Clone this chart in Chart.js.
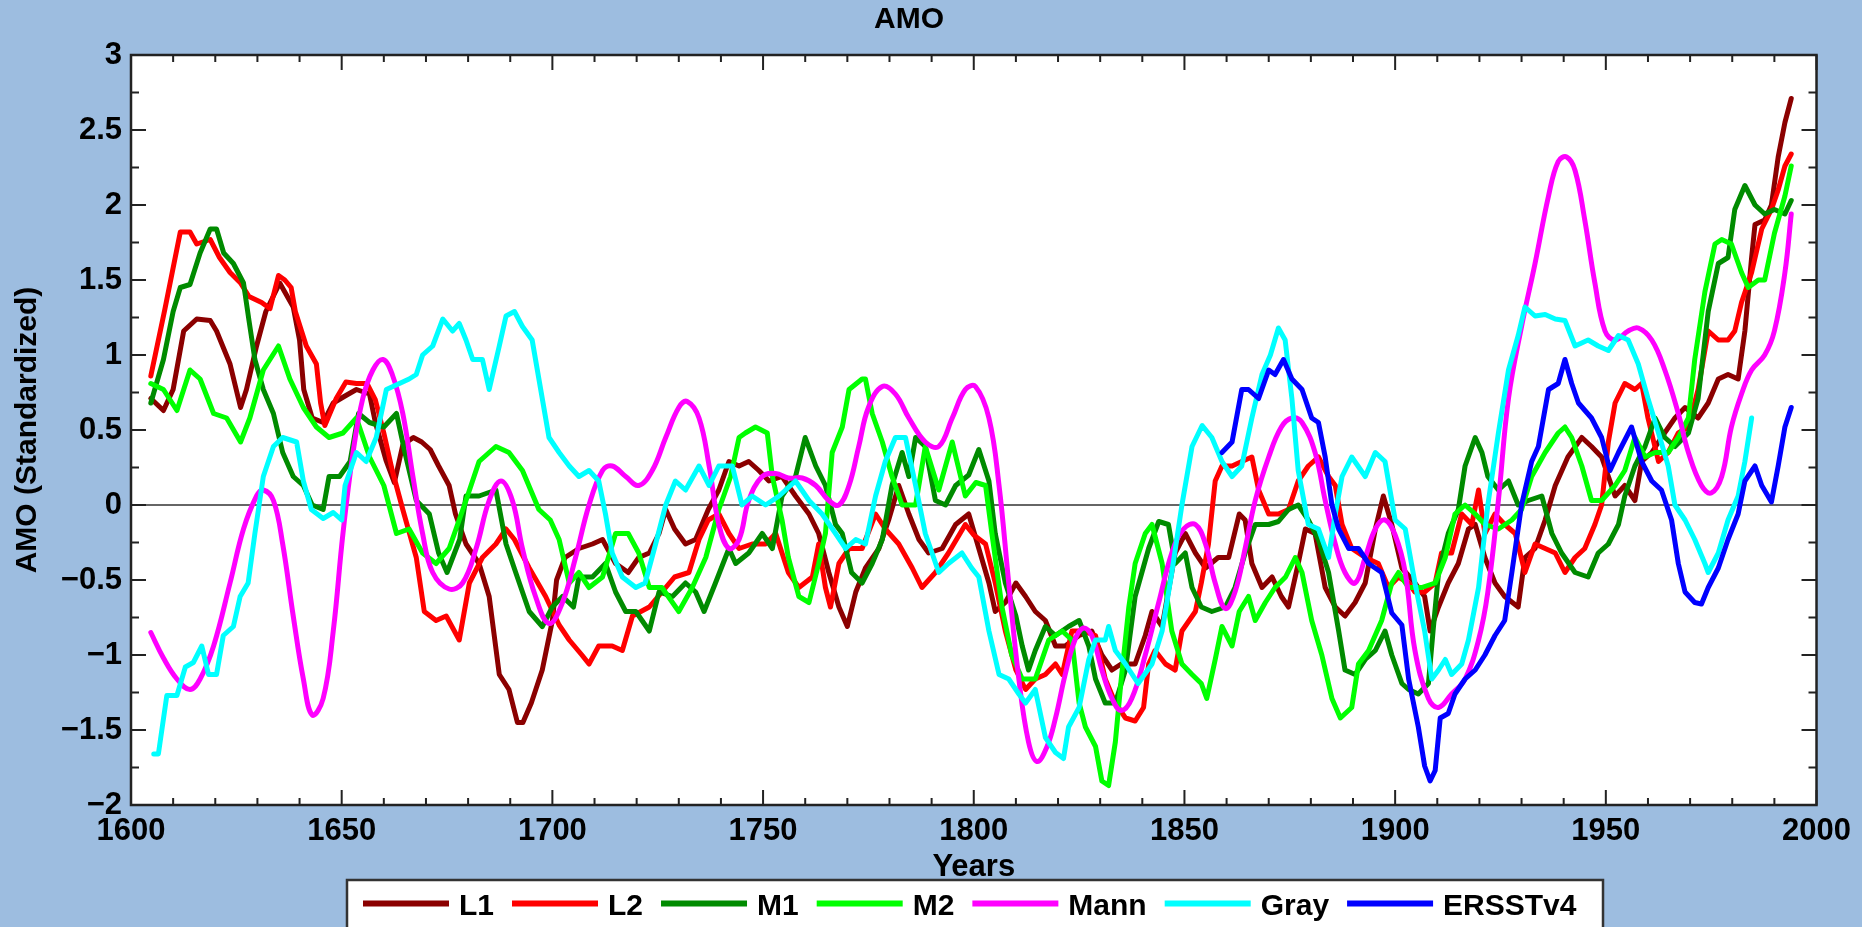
<!DOCTYPE html>
<html>
<head>
<meta charset="utf-8">
<title>AMO</title>
<script src="https://cdn.jsdelivr.net/npm/chart.js@4.4.1/dist/chart.umd.min.js"></script>
<style>
  html, body { margin: 0; padding: 0; background: #9dbde0; }
  #wrap { position: relative; width: 1862px; height: 927px; }
</style>
</head>
<body>
<div id="wrap"><canvas id="amoChart"></canvas></div>
<script>
// values: [year, AMO standardized]
const L1 = [[1604.7,0.71],[1607.7,0.63],[1610,0.77],[1612.5,1.16],[1615.6,1.24],[1618.8,1.23],[1620.3,1.16],[1623.5,0.94],[1626,0.65],[1627.4,0.77],[1629.8,1.06],[1632,1.29],[1635.3,1.48],[1638.5,1.32],[1640,1.1],[1641,0.77],[1643,0.58],[1645.6,0.55],[1648,0.68],[1651,0.73],[1653.5,0.77],[1656.6,0.74],[1658,0.55],[1660.5,0.3],[1662.5,0.15],[1664.5,0.4],[1667,0.45],[1669,0.42],[1671,0.37],[1673,0.26],[1675.5,0.13],[1677,-0.06],[1679.5,-0.26],[1682.6,-0.39],[1685,-0.61],[1687.4,-1.13],[1689.7,-1.23],[1691.7,-1.45],[1693,-1.45],[1695,-1.32],[1697.6,-1.1],[1700,-0.77],[1701,-0.5],[1703,-0.35],[1706.3,-0.29],[1709.5,-0.26],[1711.9,-0.23],[1715,-0.39],[1718,-0.45],[1720.5,-0.35],[1723,-0.32],[1725.3,-0.19],[1726.9,-0.03],[1729,-0.16],[1731.6,-0.26],[1734,-0.23],[1737,-0.03],[1739.5,0.1],[1741.9,0.29],[1744.3,0.26],[1746.6,0.29],[1749,0.23],[1751.4,0.16],[1754.5,0.19],[1757.7,0.06],[1760.9,-0.06],[1763.2,-0.19],[1765.6,-0.45],[1768,-0.68],[1770,-0.81],[1772,-0.58],[1774.3,-0.42],[1777.5,-0.29],[1779.8,-0.1],[1782.2,0.13],[1784.6,-0.06],[1787,-0.23],[1789.3,-0.32],[1792.5,-0.29],[1795.7,-0.13],[1798.8,-0.06],[1801.2,-0.29],[1803.6,-0.52],[1805.1,-0.71],[1807.5,-0.65],[1810,-0.52],[1812.3,-0.61],[1814.6,-0.71],[1817,-0.77],[1819.4,-0.94],[1821.7,-0.94],[1825,-0.87],[1828,-0.84],[1830.4,-1],[1832.8,-1.1],[1835,-1.06],[1838.3,-1.06],[1840.7,-0.87],[1842.3,-0.71],[1844.7,-0.81],[1847.8,-0.32],[1850.2,-0.19],[1852.6,-0.32],[1855,-0.42],[1858,-0.35],[1860.5,-0.35],[1863,-0.06],[1864.4,-0.1],[1866,-0.39],[1868.4,-0.55],[1870.8,-0.48],[1873,-0.61],[1874.7,-0.68],[1877,-0.39],[1878.7,-0.16],[1881,-0.19],[1883.4,-0.55],[1885.8,-0.68],[1888.1,-0.74],[1890.5,-0.65],[1892.9,-0.52],[1895.3,-0.16],[1897.2,0.06],[1899.2,-0.13],[1901.6,-0.42],[1904.7,-0.52],[1907,-0.61],[1908.3,-0.84],[1910.3,-0.68],[1912.6,-0.52],[1915,-0.39],[1917.4,-0.16],[1919,-0.13],[1921.3,-0.35],[1923.7,-0.52],[1926,-0.61],[1929.2,-0.68],[1930.8,-0.35],[1933.2,-0.29],[1935.6,-0.1],[1938,0.13],[1941,0.32],[1944.3,0.45],[1946.6,0.39],[1949,0.32],[1952.2,0.06],[1954.5,0.13],[1956.9,0.03],[1958.5,0.29],[1960.9,0.35],[1963.2,0.45],[1966.4,0.58],[1968.8,0.65],[1971.9,0.58],[1974.3,0.68],[1976.7,0.84],[1979,0.87],[1981.4,0.84],[1983,1.16],[1984.6,1.65],[1985.4,1.87],[1987.7,1.9],[1989.3,2],[1990.9,2.32],[1992.5,2.55],[1994,2.71]];

const L2 = [[1604.7,0.86],[1608,1.3],[1611.7,1.82],[1614,1.82],[1615.6,1.74],[1618.8,1.77],[1621,1.65],[1623.5,1.55],[1626,1.48],[1628,1.39],[1631,1.35],[1633,1.31],[1635,1.53],[1636.5,1.5],[1638,1.45],[1639,1.29],[1641.6,1.06],[1644,0.94],[1645,0.68],[1646,0.53],[1648.7,0.71],[1651,0.82],[1653.5,0.81],[1656,0.81],[1658,0.7],[1660,0.48],[1662,0.23],[1664.5,-0.03],[1667.7,-0.35],[1669.6,-0.71],[1672.4,-0.77],[1674.8,-0.74],[1677.9,-0.9],[1680.3,-0.52],[1683.4,-0.35],[1686.6,-0.26],[1689,-0.16],[1691,-0.23],[1694.5,-0.42],[1698.4,-0.61],[1701.6,-0.8],[1704,-0.9],[1707,-1],[1708.7,-1.06],[1711,-0.94],[1714.2,-0.94],[1716.6,-0.97],[1719,-0.74],[1723,-0.68],[1726,-0.58],[1729,-0.48],[1732.4,-0.45],[1734.8,-0.23],[1737,-0.1],[1739.5,-0.06],[1741.9,-0.19],[1744.3,-0.29],[1747.4,-0.26],[1750.6,-0.26],[1753,-0.19],[1754.5,-0.32],[1756,-0.45],[1758.5,-0.55],[1761.7,-0.48],[1763.2,-0.26],[1764.8,-0.55],[1766,-0.68],[1768,-0.39],[1770.4,-0.29],[1773.5,-0.29],[1776.7,-0.06],[1779,-0.16],[1782.2,-0.26],[1785.4,-0.42],[1787.7,-0.55],[1790.9,-0.45],[1794,-0.32],[1798,-0.13],[1800,-0.2],[1802.8,-0.26],[1805.1,-0.52],[1807.5,-0.84],[1810,-1.1],[1812.3,-1.23],[1814.6,-1.16],[1817,-1.13],[1819.4,-1.06],[1821,-1.13],[1823.3,-0.84],[1825.7,-0.84],[1828.9,-0.87],[1831.2,-1.16],[1833.6,-1.32],[1836,-1.42],[1838.3,-1.44],[1840.3,-1.35],[1841.5,-1.06],[1843,-0.97],[1845.5,-1.06],[1847.8,-1.1],[1849.4,-0.84],[1852.6,-0.71],[1854,-0.52],[1855.7,-0.26],[1857.3,0.16],[1858.9,0.26],[1861.3,0.26],[1863.6,0.29],[1866,0.32],[1867.6,0.1],[1870,-0.06],[1872.3,-0.06],[1874.7,-0.03],[1877,0.16],[1879.4,0.26],[1881.8,0.32],[1884.2,0.19],[1885.8,0.13],[1887.4,-0.13],[1889.7,-0.29],[1892.9,-0.35],[1896,-0.39],[1898.4,-0.55],[1900.8,-0.48],[1903.2,-0.52],[1904.7,-0.58],[1907,-0.58],[1909.5,-0.52],[1911,-0.32],[1913.4,-0.32],[1915.8,-0.06],[1918.2,-0.13],[1919.8,0.1],[1921.3,-0.19],[1923.7,-0.06],[1926,-0.13],[1928.5,-0.19],[1930.8,-0.45],[1933.2,-0.26],[1935.6,-0.29],[1938,-0.32],[1940.3,-0.45],[1942.7,-0.35],[1945,-0.29],[1947.4,-0.13],[1949,0],[1950.6,0.42],[1952.2,0.68],[1954.5,0.81],[1956.9,0.77],[1958.5,0.81],[1960,0.58],[1962.5,0.29],[1964.8,0.35],[1967.2,0.48],[1969.6,0.52],[1971.9,0.77],[1974.3,1.16],[1976.7,1.1],[1979,1.1],[1980.6,1.16],[1982.2,1.35],[1984.6,1.55],[1987,1.84],[1989.3,1.97],[1990.9,2.1],[1992.5,2.26],[1994,2.34]];

const M1 = [[1604.7,0.68],[1607.7,0.97],[1610,1.29],[1611.7,1.45],[1614,1.47],[1616.4,1.68],[1618.8,1.84],[1620.3,1.84],[1622,1.68],[1624.3,1.61],[1626.7,1.48],[1628,1.23],[1629.4,0.97],[1631.4,0.77],[1633.8,0.61],[1636,0.35],[1638.5,0.19],[1640.9,0.13],[1643,0],[1645.6,-0.03],[1647,0.19],[1649.5,0.19],[1652,0.29],[1654,0.61],[1656.6,0.55],[1660,0.52],[1663,0.61],[1665,0.35],[1667.7,0.03],[1670.8,-0.06],[1673,-0.32],[1675,-0.45],[1678,-0.23],[1679.5,0.06],[1682.6,0.06],[1686.6,0.1],[1689,-0.26],[1691.3,-0.45],[1694.5,-0.71],[1697.6,-0.81],[1700,-0.68],[1702.4,-0.61],[1705,-0.68],[1706.3,-0.48],[1709.5,-0.48],[1712.6,-0.39],[1715,-0.58],[1717.4,-0.71],[1719.8,-0.71],[1723,-0.84],[1725.3,-0.58],[1728.5,-0.61],[1731.6,-0.52],[1734,-0.58],[1736,-0.71],[1738.7,-0.52],[1741.9,-0.29],[1743.5,-0.39],[1746.6,-0.32],[1749.8,-0.19],[1752.2,-0.29],[1754.5,0.06],[1757.7,0.19],[1760,0.45],[1762.5,0.26],[1764.8,0.13],[1767.2,-0.13],[1768.8,-0.19],[1771,-0.45],[1773.5,-0.52],[1775.9,-0.39],[1778.3,-0.23],[1780.6,0.13],[1783,0.35],[1784.6,0.19],[1786.2,0.45],[1788.5,0.39],[1790.9,0.03],[1793.3,0],[1795.7,0.13],[1798.8,0.2],[1801.2,0.37],[1803.6,0.16],[1805.1,-0.19],[1807.5,-0.52],[1810,-0.74],[1811.5,-0.94],[1813,-1.1],[1814.6,-0.97],[1817,-0.81],[1819.4,-0.87],[1822.5,-0.81],[1825,-0.77],[1827.3,-0.94],[1828.9,-1.16],[1831.2,-1.32],[1833.6,-1.32],[1836,-1.1],[1838.3,-0.61],[1841.5,-0.29],[1843.9,-0.11],[1846.2,-0.13],[1847.8,-0.39],[1850.2,-0.32],[1851.8,-0.55],[1854,-0.68],[1856.5,-0.71],[1859.7,-0.68],[1862,-0.55],[1864.4,-0.32],[1866.8,-0.13],[1870,-0.13],[1872.3,-0.11],[1874.7,-0.03],[1877,0],[1879.4,-0.1],[1881.8,-0.23],[1884.2,-0.45],[1886.6,-0.84],[1888.1,-1.1],[1890.5,-1.13],[1892.9,-1.03],[1895.3,-0.97],[1897.6,-0.84],[1899.2,-1],[1901.6,-1.19],[1903.2,-1.23],[1905.5,-1.26],[1907.9,-1.19],[1909,-0.84],[1910.3,-0.45],[1912.6,-0.19],[1915,-0.03],[1916.6,0.26],[1919,0.45],[1920.6,0.35],[1922,0.19],[1924.5,0.1],[1926.9,0.16],[1929.2,0],[1931.6,0.03],[1934.8,0.06],[1937.2,-0.19],[1939.5,-0.32],[1942.7,-0.45],[1945.8,-0.48],[1948.2,-0.32],[1950.6,-0.26],[1953,-0.13],[1954.5,0.06],[1956.9,0.26],[1959.3,0.39],[1961.7,0.58],[1964,0.45],[1966.4,0.39],[1969.6,0.48],[1971.9,0.71],[1974.3,1.29],[1976.7,1.61],[1979,1.65],[1980.6,1.97],[1983,2.13],[1985.4,2],[1987.7,1.94],[1990,1.97],[1992.5,1.94],[1994,2.03]];

const M2 = [[1604.7,0.81],[1607.7,0.77],[1610.9,0.63],[1614,0.9],[1616.4,0.84],[1619.6,0.61],[1622.7,0.58],[1626,0.42],[1628.2,0.58],[1631.4,0.9],[1635,1.06],[1637.7,0.84],[1640.9,0.65],[1644,0.52],[1647,0.45],[1650.3,0.48],[1653.5,0.58],[1656.6,0.32],[1660,0.13],[1663,-0.19],[1666,-0.16],[1669.2,-0.32],[1672.4,-0.39],[1675.5,-0.29],[1679.5,0.03],[1682.6,0.29],[1686.6,0.39],[1689.7,0.35],[1692.9,0.23],[1696.8,-0.03],[1699.5,-0.1],[1701.6,-0.23],[1704,-0.52],[1706.3,-0.45],[1708.7,-0.55],[1711.9,-0.48],[1715,-0.19],[1718,-0.19],[1720.5,-0.32],[1723,-0.55],[1726,-0.55],[1730,-0.71],[1733.2,-0.55],[1736.4,-0.35],[1739.5,-0.03],[1742.3,0.19],[1744.3,0.45],[1745.8,0.48],[1748.2,0.52],[1751,0.48],[1752.2,0.19],[1754.5,-0.1],[1756,-0.35],[1758.5,-0.61],[1760.9,-0.65],[1763.2,-0.39],[1764.8,-0.19],[1766.4,0.35],[1768.8,0.52],[1770.4,0.77],[1773.5,0.84],[1774.3,0.84],[1775.9,0.61],[1778.3,0.42],[1780.6,0.19],[1783,0],[1786.2,0],[1788.5,0.39],[1791.7,0.1],[1794.9,0.42],[1798,0.06],[1800.5,0.15],[1802.8,0.13],[1804.3,-0.19],[1806.7,-0.68],[1809,-1],[1811.5,-1.16],[1814.6,-1.16],[1817.8,-0.9],[1821,-0.84],[1823.3,-0.9],[1825,-1.32],[1826.5,-1.48],[1828.9,-1.61],[1830.4,-1.84],[1832,-1.87],[1833.6,-1.58],[1835,-1.16],[1836.8,-0.68],[1838.3,-0.39],[1840.7,-0.19],[1842.3,-0.13],[1844.7,-0.39],[1847,-0.84],[1849.4,-1.06],[1851.8,-1.13],[1854,-1.19],[1855.3,-1.29],[1857.3,-1.03],[1858.9,-0.81],[1861.3,-0.94],[1863,-0.71],[1865.2,-0.61],[1866.8,-0.77],[1869.2,-0.65],[1871.5,-0.55],[1874,-0.48],[1876.3,-0.35],[1877.9,-0.45],[1880.2,-0.77],[1882.6,-1],[1885,-1.29],[1887,-1.42],[1889.7,-1.35],[1891.3,-1.06],[1893.7,-0.97],[1896.8,-0.77],[1899.2,-0.52],[1900.8,-0.45],[1903.2,-0.55],[1906.3,-0.55],[1909.5,-0.52],[1911.9,-0.35],[1914.2,-0.06],[1916.6,0],[1919,-0.06],[1921.3,-0.13],[1924.5,-0.16],[1927.7,-0.1],[1930,-0.03],[1932.4,0.19],[1935.6,0.35],[1938.7,0.48],[1940.3,0.52],[1941.9,0.45],[1944.3,0.26],[1946.6,0.03],[1949,0.03],[1952.2,0.13],[1954.5,0.23],[1956.9,0.45],[1959.3,0.32],[1961.7,0.35],[1964.8,0.35],[1967.2,0.45],[1969.6,0.58],[1971.1,0.97],[1973.5,1.42],[1975.9,1.74],[1977.5,1.77],[1979.8,1.74],[1982.2,1.55],[1983.8,1.45],[1986.2,1.5],[1987.7,1.5],[1990,1.81],[1992.5,2.06],[1994,2.26]];

const MANN = [[1604.7,-0.85],[1607.7,-1.02],[1610.9,-1.16],[1614,-1.23],[1616.4,-1.16],[1619.6,-0.94],[1623.5,-0.52],[1626.7,-0.16],[1629.8,0.06],[1631.4,0.1],[1633.8,0.03],[1636,-0.26],[1638.5,-0.74],[1640.9,-1.16],[1643,-1.4],[1645.6,-1.29],[1648,-0.84],[1650.3,-0.19],[1652.7,0.35],[1655,0.71],[1657.4,0.9],[1659.8,0.97],[1662,0.87],[1664.5,0.61],[1666.9,0.19],[1669.2,-0.19],[1671.6,-0.45],[1675.5,-0.56],[1678.7,-0.52],[1681.9,-0.29],[1685,0.03],[1687.8,0.16],[1690.5,0.03],[1692.9,-0.29],[1696,-0.61],[1699.2,-0.79],[1702.4,-0.65],[1705.5,-0.35],[1708.7,0],[1711.9,0.23],[1714.2,0.26],[1717.4,0.19],[1720.5,0.13],[1723.7,0.23],[1726.9,0.45],[1730,0.65],[1732,0.69],[1734.8,0.58],[1737.2,0.26],[1739.5,-0.13],[1741.9,-0.29],[1744.3,-0.23],[1746.6,0.03],[1749.8,0.19],[1753,0.21],[1756,0.18],[1759.3,0.18],[1762.5,0.13],[1765.6,0.03],[1768,0],[1770.4,0.13],[1772.7,0.39],[1775,0.65],[1778.3,0.79],[1781.4,0.74],[1784.6,0.58],[1788.5,0.42],[1791.7,0.39],[1794.9,0.58],[1798,0.77],[1800.4,0.79],[1803.6,0.58],[1806,0.13],[1808.3,-0.52],[1810.7,-1.16],[1813,-1.58],[1815,-1.71],[1817.4,-1.61],[1819.4,-1.42],[1821.7,-1.13],[1824,-0.9],[1826,-0.82],[1828,-0.87],[1830.4,-1.1],[1832.8,-1.29],[1835,-1.37],[1837.5,-1.29],[1840.7,-1],[1843.9,-0.65],[1847,-0.32],[1849.8,-0.16],[1852.6,-0.13],[1855,-0.26],[1857.3,-0.52],[1859.7,-0.69],[1862,-0.58],[1864.4,-0.29],[1866.8,0.03],[1870,0.32],[1873,0.52],[1875.5,0.58],[1877.9,0.55],[1881,0.35],[1883.4,0.03],[1885.8,-0.26],[1888.1,-0.45],[1890.5,-0.52],[1892.9,-0.35],[1895.3,-0.16],[1897.6,-0.1],[1900,-0.2],[1902.4,-0.45],[1904.7,-0.97],[1907.9,-1.29],[1910.3,-1.35],[1913.4,-1.26],[1916.6,-1.16],[1919.8,-0.9],[1922,-0.58],[1924.5,0.03],[1926.9,0.71],[1930,1.19],[1933.2,1.61],[1936.4,2.06],[1938.7,2.29],[1940.7,2.32],[1942.7,2.23],[1945,1.9],[1947.4,1.48],[1949.8,1.16],[1952.2,1.1],[1955.3,1.16],[1957.7,1.18],[1960.9,1.1],[1964,0.9],[1967.2,0.61],[1969.6,0.35],[1972.7,0.13],[1975,0.08],[1977.5,0.19],[1979.8,0.52],[1982.2,0.74],[1984.6,0.9],[1987.7,1],[1990,1.16],[1992.5,1.55],[1994,1.94]];

const GRAY = [[1605.4,-1.66],[1606.5,-1.66],[1608.5,-1.27],[1610.9,-1.27],[1612.9,-1.08],[1614.8,-1.05],[1616.8,-0.94],[1618.4,-1.13],[1620.3,-1.13],[1621.9,-0.87],[1624.3,-0.81],[1625.9,-0.61],[1627.8,-0.52],[1629.4,-0.19],[1631.4,0.19],[1633.8,0.39],[1636,0.45],[1639.3,0.42],[1640.9,0.16],[1642.8,-0.03],[1645.6,-0.09],[1648,-0.05],[1650,-0.1],[1650.8,0.13],[1653.5,0.35],[1655.8,0.29],[1658.2,0.45],[1660.6,0.77],[1663.7,0.81],[1666,0.84],[1667.7,0.87],[1669.2,1],[1671.6,1.06],[1674,1.24],[1676.3,1.16],[1677.9,1.21],[1679.5,1.1],[1681.1,0.97],[1683.4,0.97],[1685,0.77],[1687.4,1.06],[1689,1.26],[1691,1.29],[1692.9,1.19],[1695.2,1.1],[1697.6,0.71],[1699.2,0.45],[1701.6,0.35],[1704,0.26],[1706.3,0.19],[1708.7,0.23],[1711,0.16],[1712.6,-0.06],[1714.2,-0.32],[1716.6,-0.48],[1719.8,-0.55],[1722,-0.52],[1724.5,-0.26],[1726.9,0],[1729.2,0.16],[1731.6,0.1],[1734.8,0.26],[1737.2,0.13],[1739.5,0.26],[1742.7,0.26],[1745,0],[1747.4,0.06],[1750.6,0],[1753.8,0.06],[1757.7,0.16],[1760.9,0.03],[1764,-0.06],[1767.2,-0.19],[1769.6,-0.29],[1772,-0.23],[1774.3,-0.26],[1776.7,0.06],[1779,0.29],[1781.4,0.45],[1783.8,0.45],[1786.2,0.13],[1788.5,-0.19],[1791.7,-0.45],[1794,-0.39],[1797.2,-0.32],[1799.5,-0.42],[1801.2,-0.48],[1803.6,-0.84],[1806,-1.13],[1808.3,-1.16],[1810.7,-1.26],[1812.3,-1.32],[1814.6,-1.23],[1817,-1.55],[1819.4,-1.65],[1821.3,-1.69],[1822.5,-1.48],[1825,-1.35],[1827.3,-1.03],[1828.9,-0.9],[1831.2,-0.9],[1832,-0.81],[1833.6,-0.97],[1836,-1.06],[1839,-1.19],[1842.3,-1.06],[1844.7,-0.84],[1847,-0.45],[1849.4,0],[1851.8,0.39],[1854.2,0.53],[1856.5,0.45],[1858.9,0.29],[1861.3,0.19],[1863.6,0.26],[1866,0.58],[1868.4,0.87],[1870.4,1],[1872.3,1.18],[1873.9,1.1],[1875.5,0.71],[1877,0.23],[1879.4,-0.13],[1881.8,-0.16],[1884.2,-0.35],[1885.8,-0.06],[1887.4,0.19],[1889.7,0.32],[1892.9,0.19],[1895.3,0.35],[1897.6,0.29],[1900,-0.1],[1902.4,-0.16],[1904.7,-0.52],[1907,-0.84],[1908.7,-1.16],[1910.3,-1.1],[1911.9,-1.03],[1913.4,-1.13],[1915.8,-1.06],[1917.4,-0.9],[1919.8,-0.55],[1922,0],[1924.5,0.48],[1926.9,0.9],[1929.2,1.13],[1930.8,1.32],[1933.2,1.26],[1935.6,1.27],[1938,1.24],[1940.3,1.23],[1942.7,1.06],[1945.8,1.1],[1948.2,1.06],[1950.6,1.03],[1953,1.13],[1955.3,1.1],[1957.7,0.94],[1960,0.71],[1962.5,0.48],[1964.8,0.26],[1966.4,0],[1968.8,-0.1],[1971.1,-0.23],[1973.5,-0.39],[1974.3,-0.45],[1976.7,-0.32],[1979,-0.1],[1981.4,0.06],[1983,0.29],[1984.6,0.58]];

const ERSST = [[1858.9,0.35],[1861.3,0.42],[1863.6,0.77],[1865.2,0.77],[1867.6,0.71],[1870,0.9],[1871.5,0.87],[1873.5,0.97],[1875.5,0.84],[1877.9,0.77],[1880.2,0.58],[1881.8,0.55],[1883.4,0.32],[1885,0],[1886.6,-0.16],[1889,-0.29],[1891.3,-0.29],[1893.7,-0.39],[1896.8,-0.45],[1899.2,-0.72],[1901.6,-0.8],[1903.2,-1.16],[1905.5,-1.48],[1907,-1.74],[1908.3,-1.84],[1909.5,-1.77],[1910.7,-1.42],[1912.6,-1.39],[1914.2,-1.26],[1916.6,-1.16],[1919,-1.1],[1921.3,-1],[1923.7,-0.87],[1926,-0.77],[1927.7,-0.45],[1930,0],[1932.4,0.29],[1934,0.39],[1936.4,0.77],[1938.7,0.81],[1940.3,0.97],[1941.9,0.81],[1943.5,0.68],[1946.6,0.58],[1949,0.45],[1951,0.23],[1953,0.35],[1956.1,0.52],[1958.5,0.29],[1960.9,0.16],[1963.2,0.1],[1965.6,-0.1],[1967.2,-0.39],[1968.8,-0.58],[1971.1,-0.65],[1972.7,-0.66],[1974.3,-0.55],[1976.7,-0.42],[1979,-0.23],[1981.4,-0.06],[1983,0.16],[1985.4,0.26],[1987,0.13],[1989.3,0.02],[1990.9,0.26],[1992.5,0.52],[1994,0.65]];

const SERIES = [L1, L2, M1, M2, MANN, GRAY, ERSST];
const SERIES_NAMES = ['L1', 'L2', 'M1', 'M2', 'Mann', 'Gray', 'ERSSTv4'];
const SERIES_COLORS = ['#8b0000', '#ff0000', '#008b00', '#00ff00', '#ff00ff', '#00ffff', '#0000ff'];
const X_TICKS = [1600, 1650, 1700, 1750, 1800, 1850, 1900, 1950, 2000];
const Y_TICKS = [-2, -1.5, -1, -0.5, 0, 0.5, 1, 1.5, 2, 2.5, 3];

const FONT = "'Liberation Sans', Arial, Helvetica, sans-serif";

// frame, inward ticks, zero line and the boxed legend
const framePlugin = {
    id: 'frame',
    beforeDraw(chart) {
        const { ctx, chartArea: a } = chart;
        ctx.save();
        ctx.fillStyle = '#ffffff';
        ctx.fillRect(a.left, a.top, a.right - a.left, a.bottom - a.top);
        ctx.restore();
    },
    beforeDatasetsDraw(chart) {
        const { ctx, chartArea: a, scales } = chart;
        const y0 = scales.y.getPixelForValue(0);
        ctx.save();
        ctx.strokeStyle = '#333';
        ctx.lineWidth = 1.5;
        ctx.beginPath();
        ctx.moveTo(a.left, y0);
        ctx.lineTo(a.right, y0);
        ctx.stroke();
        ctx.restore();
    },
    afterDraw(chart) {
        const { ctx, chartArea: a, scales } = chart;
        ctx.save();
        ctx.strokeStyle = '#222';
        ctx.lineWidth = 2;
        ctx.beginPath();
        for (let yr = 1600; yr <= 2000; yr += 10) {
            const px = scales.x.getPixelForValue(yr);
            const len = yr % 50 === 0 ? 15 : 7;
            ctx.moveTo(px, a.bottom); ctx.lineTo(px, a.bottom - len);
            ctx.moveTo(px, a.top); ctx.lineTo(px, a.top + len);
        }
        for (let k = -8; k <= 12; k++) {
            const py = scales.y.getPixelForValue(k * 0.25);
            const len = k % 2 === 0 ? 15 : 8;
            ctx.moveTo(a.left, py); ctx.lineTo(a.left + len, py);
            ctx.moveTo(a.right, py); ctx.lineTo(a.right - len, py);
        }
        ctx.stroke();
        ctx.lineWidth = 2.5;
        ctx.strokeRect(a.left, a.top, a.right - a.left, a.bottom - a.top);

        // legend box
        ctx.fillStyle = '#ffffff';
        ctx.fillRect(347, 880, 1256, 60);
        ctx.strokeStyle = '#333';
        ctx.lineWidth = 2.5;
        ctx.strokeRect(347, 880, 1256, 60);
        ctx.font = 'bold 30px ' + FONT;
        ctx.textBaseline = 'alphabetic';
        ctx.textAlign = 'left';
        let lx = 363;
        chart.data.datasets.forEach(ds => {
            ctx.strokeStyle = ds.borderColor;
            ctx.lineWidth = 6;
            ctx.beginPath();
            ctx.moveTo(lx, 903.5);
            ctx.lineTo(lx + 86, 903.5);
            ctx.stroke();
            ctx.fillStyle = '#000';
            ctx.fillText(ds.label, lx + 96, 915);
            lx += 96 + ctx.measureText(ds.label).width + 18;
        });
        ctx.restore();
    }
};

const datasets = SERIES.map((s, i) => ({
    label: SERIES_NAMES[i],
    data: s.map(p => ({ x: p[0], y: p[1] })),
    borderColor: SERIES_COLORS[i],
    backgroundColor: SERIES_COLORS[i],
    borderWidth: 5,
    pointRadius: 0,
    tension: SERIES_NAMES[i] === 'Mann' ? 0.4 : 0,
    borderJoinStyle: 'round',
    borderCapStyle: 'round',
    order: SERIES.length - i
}));

new Chart(document.getElementById('amoChart'), {
    type: 'line',
    data: { datasets: datasets },
    options: {
        responsive: true,
        maintainAspectRatio: false,
        animation: false,
        layout: { padding: { left: 0, right: 44, top: 0, bottom: 47 } },
        plugins: {
            legend: { display: false },
            tooltip: { enabled: false },
            title: {
                display: true,
                text: 'AMO',
                color: '#000',
                font: { family: FONT, size: 30, weight: 'bold', lineHeight: 1.2 },
                padding: { top: 2, bottom: 17 }
            }
        },
        scales: {
            x: {
                type: 'linear',
                min: 1600,
                max: 2000,
                grid: { display: false, drawTicks: false },
                border: { display: false },
                afterBuildTicks: scale => { scale.ticks = X_TICKS.map(v => ({ value: v })); },
                afterFit: scale => { scale.height = 75; },
                ticks: {
                    color: '#000',
                    padding: 11,
                    maxRotation: 0,
                    autoSkip: false,
                    font: { family: FONT, size: 31, weight: 'bold', lineHeight: 1 },
                    callback: v => String(v)
                },
                title: {
                    display: true,
                    text: 'Years',
                    color: '#000',
                    font: { family: FONT, size: 31, weight: 'bold', lineHeight: 1 },
                    padding: { top: 0, bottom: -3 }
                }
            },
            y: {
                type: 'linear',
                min: -2,
                max: 3,
                grid: { display: false, drawTicks: false },
                border: { display: false },
                afterBuildTicks: scale => { scale.ticks = Y_TICKS.map(v => ({ value: v })); },
                afterFit: scale => { scale.width = 131; },
                ticks: {
                    color: '#000',
                    padding: 9,
                    autoSkip: false,
                    font: { family: FONT, size: 31, weight: 'bold', lineHeight: 1 },
                    callback: v => String(v).replace('-', '\u2212')
                },
                title: {
                    display: true,
                    text: 'AMO (Standardized)',
                    color: '#000',
                    font: { family: FONT, size: 30, weight: 'bold', lineHeight: 1 },
                    padding: { top: 13, bottom: 0 }
                }
            }
        }
    },
    plugins: [framePlugin]
});
</script>
</body>
</html>
